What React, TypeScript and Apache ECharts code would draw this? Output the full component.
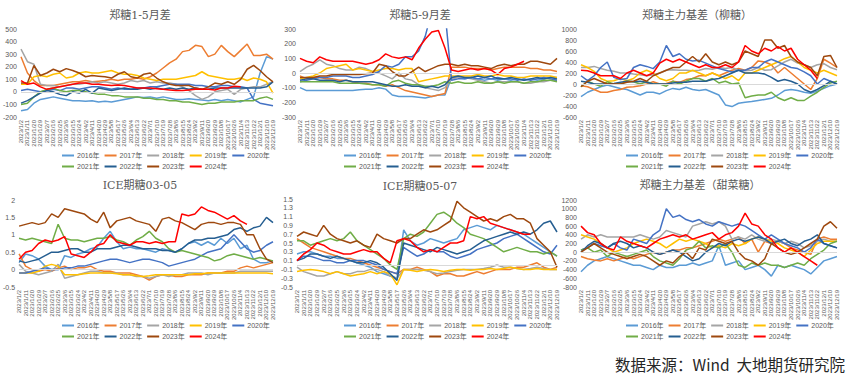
import React, { useEffect, useRef } from "react";
import * as echarts from "echarts";

// ---------- categories / labels ----------
const categories = [
  "2023/1/2", "2023/1/11", "2023/1/20", "2023/1/29", "2023/2/7", "2023/2/16", "2023/2/25", "2023/3/6",
  "2023/3/15", "2023/3/24", "2023/4/2", "2023/4/11", "2023/4/20", "2023/4/29", "2023/5/8", "2023/5/17",
  "2023/5/26", "2023/6/4", "2023/6/13", "2023/6/22", "2023/7/1", "2023/7/10", "2023/7/19", "2023/7/28",
  "2023/8/6", "2023/8/15", "2023/8/24", "2023/9/2", "2023/9/11", "2023/9/20", "2023/9/29", "2023/10/8",
  "2023/10/17", "2023/10/26", "2023/11/4", "2023/11/13", "2023/11/22", "2023/12/1", "2023/12/10", "2023/12/19",
];
const years = ["2016年", "2017年", "2018年", "2019年", "2020年", "2021年", "2022年", "2023年", "2024年"];
const titles = ["郑糖1-5月差", "郑糖5-9月差", "郑糖主力基差（柳糖）", "ICE期糖03-05", "ICE期糖05-07", "郑糖主力基差（甜菜糖）"];
const yMins = [-200, -300, -600, -0.5, -0.5, -800];
const yMaxs = [500, 300, 1000, 2, 1.5, 1200];
const yIntervals = [100, 100, 200, 0.5, 0.2, 200];
const sourceText = "数据来源：Wind  大地期货研究院";

// ---------- panel 1: 郑糖1-5月差 ----------
const p1_2016 = [-150,-140,-90,-60,-50,-40,-50,-60,-70,-70,-75,-70,-80,-75,-80,-70,-60,-50,-40,-45,-40,-50,-40,-50,-60,-60,-55,-60,-65,-70,-60,-70,-60,-70,-80,-60,-40,150,280,260];
const p1_2017 = [280,150,90,50,50,50,60,70,80,80,90,80,85,90,100,90,100,100,110,100,120,150,190,230,260,320,330,370,360,280,300,370,320,280,330,380,290,290,300,260];
const p1_2018 = [340,240,220,60,50,50,40,50,60,60,70,80,70,80,70,60,70,90,80,90,70,80,70,70,60,40,10,-30,-60,-40,0,10,20,-20,20,30,40,40,60,80];
const p1_2019 = [60,60,120,130,120,140,150,110,120,150,160,150,150,160,170,150,140,140,130,110,100,90,100,100,100,110,120,130,160,130,120,110,100,100,110,90,110,100,80,-10];
const p1_2020 = [10,20,10,0,10,20,10,30,30,20,30,40,40,30,20,30,20,20,30,30,40,40,50,60,60,60,60,50,50,40,40,50,50,40,40,30,-60,-90,-100,-110];
const p1_2021 = [-100,-90,-40,0,20,30,10,0,10,10,0,-10,-20,-20,-30,-30,-40,-40,-40,-50,-50,-60,-60,-70,-70,-80,-80,-90,-100,-90,-90,-80,-80,-80,-70,-70,-70,-50,-40,-60];
const p1_2022 = [-90,-70,-40,-10,10,0,-20,-30,0,-10,20,-10,30,20,10,20,30,20,20,30,20,30,20,30,20,30,20,30,20,20,30,30,30,30,30,30,30,30,40,80];
const p1_2023 = [70,70,210,130,150,180,160,185,170,150,120,130,125,120,110,140,160,120,110,140,150,110,80,60,50,50,50,30,20,40,70,60,80,60,100,180,210,170,120,80];
const p1_2024 = [90,60,70,40,20,30,40,50,60,70,70,60,60,55,50,55,50,40,30,30,30,25,20,15,10,10,15,20,20,20,15,30,30,45,40,null,null,null,null,null];

// ---------- panel 2: 郑糖5-9月差 ----------
const p2_2016 = [-100,-120,-120,-120,-120,-120,-120,-120,-120,-115,-110,-110,-100,-110,-150,-160,-160,-160,-165,-170,-160,-150,-150,-30,-30,-40,-30,-40,-50,-40,-50,-40,-50,-40,-50,-40,-50,-40,-30,-30];
const p2_2017 = [-20,-40,-30,-30,-40,-40,-50,-50,-60,-70,-70,-80,-80,-90,-80,-100,-120,-130,-140,-150,-160,-150,-140,40,40,40,30,30,30,20,30,40,40,40,40,30,30,20,20,10];
const p2_2018 = [10,40,60,90,60,50,30,20,20,40,30,10,0,-20,-40,0,-40,-50,-80,-100,-110,-120,-100,-40,-30,-30,-40,-50,-60,-70,-60,-60,-60,-60,-70,-70,-60,-60,-50,-50];
const p2_2019 = [-40,-30,-20,0,30,40,50,60,20,30,20,10,20,30,30,20,30,30,-60,-50,-40,-30,-20,-20,-20,-20,-20,-10,-20,-20,-10,-20,-20,-30,-30,-20,-20,-20,-20,-30];
const p2_2020 = [-60,-50,-40,-30,-30,-20,-20,-20,-30,-30,-20,-10,10,50,40,60,110,110,150,250,420,420,420,-50,-40,-40,-30,-40,-30,-40,-30,-40,-40,-50,-40,-50,-40,-30,-40,-50];
const p2_2021 = [-60,-60,-60,-60,-60,-60,-70,-70,-70,-70,-75,-80,-80,-90,-60,-50,-70,-80,-80,-90,-90,-80,-60,-70,-60,-70,-70,-60,-70,-70,-60,-70,-60,-60,-70,-60,-60,-50,-50,-60];
const p2_2022 = [-50,-40,-40,-50,-50,-50,-60,-50,-60,-60,-60,-60,-70,-80,-90,-90,-80,-90,-90,-100,-90,-100,-80,-30,-20,-30,-30,-20,-30,-20,-40,-40,-30,-40,-50,-40,-30,-40,-30,-40];
const p2_2023 = [-30,-30,-30,-20,-20,-10,-10,-10,-10,-10,-5,0,60,50,10,-20,-20,10,40,10,30,50,60,60,50,60,50,50,40,30,50,60,50,60,60,80,80,70,60,100];
const p2_2024 = [100,80,70,110,90,80,80,80,80,70,60,70,90,130,110,100,110,90,170,230,280,290,170,20,10,20,30,20,30,20,-10,30,40,60,80,null,null,null,null,null];

// ---------- panel 3: 郑糖主力基差（柳糖） ----------
const p3_2016 = [-230,-150,-100,-50,-20,-50,-80,-100,-150,-200,-150,-150,-180,-120,-80,-100,-60,-100,-120,-100,-150,-200,-380,-410,-350,-330,-320,-300,-280,-260,-200,-120,-100,-120,-150,-170,-130,-80,-30,0];
const p3_2017 = [-30,-50,-100,-150,-150,-120,-100,-60,-50,-30,0,40,0,10,50,30,80,100,150,150,200,150,200,250,280,250,300,420,400,350,200,300,200,100,0,-100,100,450,380,300];
const p3_2018 = [300,300,320,280,250,230,200,200,180,170,150,170,200,250,260,250,250,240,250,280,270,300,280,300,250,240,250,300,250,260,330,400,450,380,350,300,350,370,300,260];
const p3_2019 = [350,300,230,100,50,60,100,60,100,200,250,200,100,60,100,200,200,250,200,150,200,150,100,150,60,200,200,250,300,350,400,460,500,400,300,250,200,250,200,150];
const p3_2020 = [150,60,150,300,400,120,80,100,300,350,320,280,400,700,500,550,450,420,430,380,330,280,250,220,250,250,300,300,400,450,400,350,300,280,220,150,0,100,50,0];
const p3_2021 = [-50,50,0,-40,40,0,0,50,40,0,40,0,0,-40,50,0,50,100,100,50,100,20,50,0,20,-250,-220,-200,-200,-150,-250,-300,-250,-300,-300,-220,-150,-60,20,50];
const p3_2022 = [50,30,0,0,0,10,30,50,40,50,30,0,0,0,20,30,30,50,50,50,80,100,150,200,250,200,200,200,180,120,50,80,50,0,-100,-150,-100,-30,50,0];
const p3_2023 = [-50,50,100,50,0,0,0,30,50,100,50,150,200,250,300,300,400,500,400,550,400,350,400,350,400,600,550,500,800,800,650,700,500,400,350,300,150,500,520,300];
const p3_2024 = [250,240,200,150,150,150,100,200,250,200,150,200,380,450,400,450,400,350,300,350,300,300,350,300,400,700,600,550,650,600,680,600,650,450,350,250,100,null,null,null];

// ---------- panel 4: ICE期糖03-05 ----------
const p4_2016 = [0.2,0.45,0.4,0.3,0.1,0.0,0.0,0.4,0.35,0.45,0.5,0.6,0.65,0.9,1.1,0.8,0.6,0.65,0.6,0.6,0.55,0.5,0.6,0.55,0.5,0.6,0.75,0.8,0.7,0.8,0.7,0.9,0.75,0.9,0.6,0.7,0.3,0.2,0.2,0.25];
const p4_2017 = [0.45,0.1,0.0,-0.05,0.0,-0.05,0.05,0.1,0.0,0.05,0.05,0.1,0.0,-0.05,-0.05,-0.1,-0.1,-0.1,-0.15,-0.2,-0.3,-0.2,-0.15,-0.15,-0.2,-0.2,-0.15,-0.15,-0.15,-0.1,-0.1,-0.1,-0.05,-0.05,0.05,0.1,0.05,0.1,0.15,0.2];
const p4_2018 = [0.15,-0.05,-0.1,-0.15,-0.1,-0.05,0.15,-0.25,-0.2,-0.15,-0.1,-0.05,-0.05,-0.1,-0.1,-0.1,-0.15,-0.15,-0.2,-0.2,-0.25,-0.2,-0.15,-0.2,-0.15,-0.15,-0.1,-0.1,-0.1,-0.15,-0.1,-0.1,-0.1,-0.1,-0.05,-0.05,-0.05,-0.05,-0.05,-0.05];
const p4_2019 = [-0.1,-0.1,-0.1,-0.05,0.1,0.15,0.1,-0.15,-0.15,-0.15,-0.12,-0.1,-0.1,-0.1,-0.1,-0.12,-0.15,-0.15,-0.18,-0.2,-0.18,-0.15,-0.15,-0.15,-0.15,-0.15,-0.15,-0.12,-0.12,-0.1,-0.1,-0.1,-0.1,-0.1,-0.1,-0.1,-0.1,-0.1,-0.1,-0.12];
const p4_2020 = [-0.1,-0.1,-0.05,0.0,0.05,0.0,0.0,0.05,0.05,0.1,0.1,0.15,0.2,0.25,0.3,0.3,0.25,0.2,0.25,0.3,0.3,0.25,0.2,0.1,0.15,0.2,0.25,0.3,0.4,0.5,0.55,0.6,0.8,1.0,0.8,0.6,0.5,0.55,0.7,0.8];
const p4_2021 = [0.9,0.85,0.9,0.85,0.8,0.75,1.3,0.9,0.85,0.85,0.8,0.85,0.9,0.9,0.95,0.85,0.8,0.7,0.85,0.95,1.1,0.9,0.8,0.6,0.5,0.55,0.5,0.45,0.4,0.35,0.25,0.3,0.4,0.45,0.4,0.35,0.3,0.35,0.3,0.25];
const p4_2022 = [0.25,0.2,0.25,0.3,0.4,0.5,0.5,0.55,0.6,0.6,0.5,0.5,0.6,0.6,0.6,0.65,0.7,0.7,0.65,0.6,0.6,0.6,0.55,0.55,0.5,0.6,0.75,0.85,0.85,0.9,0.9,0.95,1.0,1.15,1.2,1.1,1.2,1.25,1.5,1.35];
const p4_2023 = [1.25,1.3,1.35,1.3,1.35,1.6,1.5,1.75,1.7,1.65,1.6,1.45,1.35,1.65,1.2,1.4,1.45,1.5,1.4,1.35,1.3,1.1,1.45,1.5,1.4,1.35,1.25,1.15,1.3,1.35,1.35,1.3,1.35,1.35,1.3,1.0,1.0,0.6,0.3,0.2];
const p4_2024 = [0.3,0.5,0.55,0.75,0.85,0.8,0.85,0.95,0.45,0.4,0.35,0.5,0.7,0.75,1.0,0.8,0.75,0.7,0.8,0.8,0.75,0.8,0.75,0.8,0.8,1.6,1.55,1.6,1.8,1.7,1.65,1.55,1.45,1.55,1.4,1.3,null,null,null,null];

// ---------- panel 5: ICE期糖05-07 ----------
const p5_2016 = [0.25,0.3,0.3,0.25,0.2,0.2,0.15,0.15,0.1,0.05,0.0,-0.05,-0.15,-0.2,-0.25,-0.3,0.8,0.55,0.45,0.5,0.6,0.55,0.5,0.55,0.6,0.8,0.85,0.9,0.85,0.8,0.9,0.85,0.8,0.75,0.7,0.6,0.5,0.4,0.3,0.2];
const p5_2017 = [0.6,0.5,0.4,0.35,0.3,0.25,0.2,0.15,0.15,0.1,0.05,0.0,-0.05,-0.1,-0.15,-0.2,-0.1,-0.1,-0.05,-0.1,-0.15,-0.25,-0.2,-0.2,-0.25,-0.25,-0.2,-0.15,-0.2,-0.15,-0.1,-0.1,-0.1,-0.05,-0.05,0.0,0.05,-0.05,-0.1,-0.05];
const p5_2018 = [-0.05,-0.15,-0.2,-0.25,-0.25,-0.2,-0.15,-0.2,-0.2,-0.15,-0.15,-0.1,-0.1,-0.15,-0.25,-0.3,-0.1,-0.1,-0.1,-0.12,-0.15,-0.2,-0.18,-0.15,-0.12,-0.1,-0.1,-0.1,-0.08,-0.05,0.0,-0.05,-0.05,-0.08,-0.1,-0.08,-0.05,-0.08,-0.1,-0.1];
const p5_2019 = [-0.15,-0.12,-0.1,-0.12,-0.15,-0.2,-0.15,-0.2,-0.25,-0.22,-0.2,-0.15,-0.2,-0.15,-0.2,-0.45,-0.1,-0.12,-0.15,-0.12,-0.1,-0.12,-0.15,-0.12,-0.1,-0.1,-0.12,-0.1,-0.1,-0.08,-0.1,-0.08,-0.05,-0.08,-0.1,-0.1,-0.08,-0.1,-0.1,-0.1];
const p5_2020 = [0.1,0.2,0.2,0.15,0.1,0.1,0.05,0.05,0.1,0.1,0.1,0.05,0.0,-0.1,-0.15,-0.2,0.4,0.3,0.2,0.25,0.35,0.3,0.3,0.2,0.15,0.2,0.25,0.35,0.4,0.45,0.5,0.6,0.65,0.7,0.6,0.5,0.4,0.3,0.25,0.45];
const p5_2021 = [0.55,0.55,0.45,0.5,0.55,0.6,0.55,0.6,0.75,0.55,0.45,0.35,0.25,0.15,0.0,-0.1,0.6,0.7,0.65,0.75,0.95,1.15,1.2,1.1,0.95,0.85,0.7,0.65,0.6,0.5,0.4,0.3,0.35,0.4,0.35,0.3,0.3,0.25,0.3,0.2];
const p5_2022 = [0.1,0.15,0.25,0.25,0.2,0.15,0.2,0.15,0.1,0.05,0.05,0.1,0.05,-0.05,-0.2,-0.35,0.5,0.45,0.4,0.35,0.3,0.4,0.35,0.3,0.25,0.3,0.35,0.45,0.55,0.6,0.65,0.7,0.75,0.7,0.75,0.7,0.8,0.95,1.0,0.75];
const p5_2023 = [0.65,0.75,0.7,0.65,0.9,0.7,0.6,0.55,0.5,0.55,0.45,0.4,0.7,0.6,0.55,0.5,0.6,0.6,0.7,0.8,0.75,0.8,0.9,1.0,1.45,1.3,1.2,1.1,1.0,1.05,1.0,1.1,1.15,1.05,1.05,0.95,0.6,0.45,0.3,-0.05];
const p5_2024 = [0.1,0.25,0.35,0.5,0.45,0.35,0.3,0.25,0.25,0.3,0.35,0.3,0.3,0.15,0.05,0.55,0.6,0.55,0.4,0.3,0.35,0.3,0.4,0.5,0.5,0.55,1.1,1.05,1.1,0.95,0.9,0.85,0.8,0.75,0.7,0.7,null,null,null,null];

// ---------- panel 6: 郑糖主力基差（甜菜糖） ----------
const p6_2016 = [-450,-300,-200,-150,-100,-150,-200,-250,-300,-300,-350,-400,-300,-350,-350,-300,-300,-250,-300,-250,-200,150,-300,-250,-200,-400,-350,-300,-400,-550,-300,-350,-300,-350,-400,-500,-350,-200,-150,-100];
const p6_2017 = [-100,-150,-180,-200,-150,-200,-150,-100,-150,-100,-50,0,-50,0,50,50,100,100,150,200,250,300,250,300,350,200,300,0,250,200,250,200,100,50,0,-50,300,350,300,300];
const p6_2018 = [300,400,350,400,350,350,350,350,350,400,350,300,350,500,450,400,350,600,650,700,650,700,600,300,350,300,400,300,250,300,250,200,250,200,100,150,250,300,250,250];
const p6_2019 = [400,350,300,200,100,0,50,100,200,250,300,250,200,100,200,300,250,300,250,200,100,150,100,200,150,200,300,350,300,250,200,100,50,0,-100,50,200,250,250,250];
const p6_2020 = [50,100,200,150,100,200,100,50,300,250,200,400,500,1000,800,850,750,700,750,650,600,700,650,600,650,600,500,400,300,400,300,200,150,100,0,100,300,200,150,100];
const p6_2021 = [50,100,0,50,-100,0,-50,-100,-50,0,50,-100,-200,-250,-300,-150,50,100,250,100,150,100,200,0,-300,-350,-250,-300,-250,-300,-300,-350,-300,-250,-300,-150,-50,50,200,250];
const p6_2022 = [0,150,250,200,100,200,250,200,100,150,100,0,-50,0,50,0,-100,-200,-150,0,100,200,150,250,300,250,300,350,300,200,250,300,200,150,250,300,400,200,150,100];
const p6_2023 = [0,100,200,100,0,-50,-100,-150,-100,-50,-100,-200,-300,-200,-250,-100,0,-150,100,50,300,250,200,250,0,-150,-200,-300,-150,200,100,0,-50,0,100,200,300,600,700,550];
const p6_2024 = [600,450,400,200,100,50,350,250,200,150,100,200,300,350,400,350,400,300,350,400,450,300,400,450,600,900,650,600,400,300,100,0,100,0,-100,-200,-300,null,null,null];

const panelData = [
  [p1_2016, p1_2017, p1_2018, p1_2019, p1_2020, p1_2021, p1_2022, p1_2023, p1_2024],
  [p2_2016, p2_2017, p2_2018, p2_2019, p2_2020, p2_2021, p2_2022, p2_2023, p2_2024],
  [p3_2016, p3_2017, p3_2018, p3_2019, p3_2020, p3_2021, p3_2022, p3_2023, p3_2024],
  [p4_2016, p4_2017, p4_2018, p4_2019, p4_2020, p4_2021, p4_2022, p4_2023, p4_2024],
  [p5_2016, p5_2017, p5_2018, p5_2019, p5_2020, p5_2021, p5_2022, p5_2023, p5_2024],
  [p6_2016, p6_2017, p6_2018, p6_2019, p6_2020, p6_2021, p6_2022, p6_2023, p6_2024],
];

// ---------- styles / layout ----------
const colors = ["#5B9BD5", "#ED7D31", "#A5A5A5", "#FFC000", "#4472C4", "#70AD47", "#255E91", "#9E480E", "#FF0000"];
const layout = [
  { left: 18, top: 29, width: 255, height: 88, tx: 140, ty: 10, lx: 62, ly: 152 },
  { left: 300, top: 29, width: 257, height: 88, tx: 420, ty: 10, lx: 344, ly: 152 },
  { left: 581, top: 29, width: 256, height: 88, tx: 697, ty: 10, lx: 626, ly: 152 },
  { left: 17, top: 200, width: 256, height: 87, tx: 140, ty: 180, lx: 62, ly: 322 },
  { left: 297, top: 199, width: 260, height: 88, tx: 420, ty: 181, lx: 344, ly: 322 },
  { left: 581, top: 200, width: 256, height: 87, tx: 700, ty: 180, lx: 626, ly: 322 },
];
const textGray = "#595959";
const titleFont = "'DejaVu Serif', 'Noto Sans CJK SC', serif";
const labelFont = "'Liberation Sans', 'Noto Sans CJK SC', sans-serif";

function buildOption() {
  const grid: any[] = [];
  const xAxis: any[] = [];
  const yAxis: any[] = [];
  const title: any[] = [];
  const legend: any[] = [];
  const series: any[] = [];

  layout.forEach((L, p) => {
    grid.push({ left: L.left, top: L.top, width: L.width, height: L.height, containLabel: false });
    title.push({
      text: titles[p],
      left: L.tx,
      top: L.ty,
      textAlign: "center",
      padding: 0,
      textStyle: { fontSize: 11, fontWeight: "normal", color: textGray, fontFamily: titleFont },
    });
    xAxis.push({
      type: "category",
      gridIndex: p,
      data: categories,
      boundaryGap: false,
      axisLine: { show: false },
      axisTick: { show: false },
      axisLabel: {
        interval: 0,
        rotate: 90,
        fontSize: 6,
        margin: 3,
        color: textGray,
        fontFamily: labelFont,
        hideOverlap: false,
      },
      splitLine: { show: false },
    });
    yAxis.push({
      type: "value",
      gridIndex: p,
      min: yMins[p],
      max: yMaxs[p],
      interval: yIntervals[p],
      axisLine: { show: false },
      axisTick: { show: false },
      splitLine: { show: false },
      axisLabel: {
        fontSize: 7,
        margin: 4,
        color: textGray,
        fontFamily: labelFont,
        formatter: (v: number) => String(Math.round(v * 10) / 10),
      },
    });
    [years.slice(0, 5), years.slice(5)].forEach((row, r) => {
      legend.push({
        data: row,
        left: L.lx,
        top: L.ly + r * 11,
        orient: "horizontal",
        padding: 0,
        itemGap: 5,
        itemWidth: 12,
        itemHeight: 2,
        icon: "rect",
        selectedMode: false,
        textStyle: { fontSize: 7, color: textGray, fontFamily: labelFont, padding: [0, 0, 0, -2] },
      });
    });
    panelData[p].forEach((vals, k) => {
      const s: any = {
        type: "line",
        name: years[k],
        xAxisIndex: p,
        yAxisIndex: p,
        data: vals,
        symbol: "none",
        showSymbol: false,
        connectNulls: false,
        clip: true,
        lineStyle: { width: 1.5, color: colors[k] },
        itemStyle: { color: colors[k] },
        z: 2 + k * 0.01,
      };
      if (k === 0) {
        s.markLine = {
          silent: true,
          symbol: "none",
          label: { show: false },
          lineStyle: { color: "#D9D9D9", width: 1, type: "solid" },
          data: [{ yAxis: 0 }],
        };
      }
      series.push(s);
    });
  });

  return {
    animation: false,
    backgroundColor: "#ffffff",
    grid,
    xAxis,
    yAxis,
    title,
    legend,
    series,
    graphic: [
      {
        type: "text",
        right: 2,
        top: 356,
        style: {
          text: sourceText,
          font: "15.5px 'Noto Sans CJK SC', sans-serif",
          fill: "#262626",
        },
      },
    ],
  };
}

export default function App() {
  const ref = useRef<HTMLDivElement>(null);
  useEffect(() => {
    document.body.style.margin = "0";
    if (!ref.current) return;
    const chart = echarts.init(ref.current, null, { renderer: "svg" });
    chart.setOption(buildOption() as any);
    return () => chart.dispose();
  }, []);
  return <div ref={ref} style={{ width: 847, height: 381, background: "#fff" }} />;
}
